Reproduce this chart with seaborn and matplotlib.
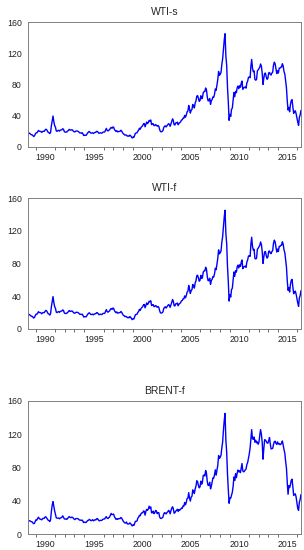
import pandas as pd
import seaborn as sns
import matplotlib.pyplot as plt
import matplotlib.dates as mdates

sns.set_theme(style="white")
plt.rcParams["font.family"] = ["Liberation Sans", "DejaVu Sans"]

# monthly readings, Mar 1988 .. May 2016
wti_s = [
    16.2, 17.9, 17.4, 16.5, 15.5, 15.5, 14.5, 13.3, 14.0, 16.3,
    18.0, 17.9, 19.4, 21.0, 20.0, 20.0, 19.6, 18.5, 19.6, 20.1, 19.8, 21.1,
    22.6, 22.1, 20.4, 18.6, 18.2, 16.9, 18.6, 27.2, 33.7, 39.5, 32.3, 27.3,
    25.2, 20.5, 19.9, 20.8, 21.2, 20.2, 21.4, 21.7, 21.9, 23.2, 22.5, 19.5,
    18.8, 19.0, 18.9, 20.2, 20.9, 22.4, 21.8, 21.4, 21.9, 21.7, 20.3, 19.4,
    19.1, 20.1, 20.3, 20.3, 19.9, 19.1, 17.9, 18.0, 17.5, 18.1, 16.7, 14.5,
    15.0, 14.8, 14.7, 16.4, 17.9, 19.1, 19.7, 18.4, 17.5, 17.7, 18.1, 17.2,
    18.0, 18.5, 18.6, 19.9, 19.7, 18.4, 17.3, 17.9, 18.0, 17.4, 18.0, 19.0,
    18.9, 19.1, 21.4, 23.6, 21.2, 20.4, 21.3, 21.9, 23.9, 24.9, 23.7, 25.4,
    25.2, 22.2, 21.0, 19.7, 20.8, 19.2, 19.6, 19.9, 19.8, 21.3, 20.2, 18.3,
    16.7, 16.1, 15.0, 15.4, 14.9, 13.7, 14.2, 13.5, 15.0, 14.4, 12.9, 11.3,
    12.5, 12.0, 14.7, 17.3, 17.8, 17.9, 20.1, 21.3, 23.9, 22.6, 25.0, 26.1,
    27.2, 29.4, 29.9, 25.7, 28.8, 31.8, 29.7, 31.2, 33.9, 33.1, 34.4, 28.5,
    29.6, 29.6, 27.2, 27.4, 28.6, 27.6, 26.4, 27.4, 26.2, 22.2, 19.6, 19.3,
    19.7, 20.7, 24.5, 26.2, 27.0, 25.5, 26.9, 28.4, 29.7, 28.9, 26.3, 29.4,
    32.9, 35.9, 33.6, 28.3, 28.1, 30.7, 30.8, 31.6, 28.3, 30.3, 31.1, 32.1,
    34.3, 34.7, 36.7, 36.7, 40.3, 38.0, 40.7, 44.9, 45.9, 53.1, 48.5, 43.3,
    46.8, 48.0, 54.3, 53.0, 49.8, 56.3, 58.7, 65.0, 65.6, 62.4, 58.3, 59.4,
    65.5, 61.6, 62.7, 69.4, 70.8, 70.9, 75.4, 73.0, 63.8, 58.9, 59.1, 62.0,
    54.5, 59.3, 60.4, 64.0, 63.5, 67.5, 74.1, 72.4, 79.9, 86.2, 96.6, 91.7,
    93.0, 95.4, 105.5, 112.6, 125.4, 136.9, 145.0, 116.7, 104.1, 76.6, 57.3, 34.0,
    41.7, 39.1, 47.9, 49.7, 59.0, 69.6, 64.2, 71.1, 69.4, 75.7, 78.0, 74.5,
    78.3, 76.4, 81.2, 84.3, 73.7, 75.3, 76.3, 76.6, 75.2, 81.9, 84.3, 89.2,
    89.2, 88.6, 102.9, 112.0, 100.9, 96.3, 97.3, 86.3, 85.5, 86.3, 97.2, 98.6,
    100.3, 102.2, 106.2, 103.3, 94.7, 80.0, 87.9, 94.1, 94.5, 89.5, 86.5, 87.9,
    94.8, 95.3, 92.9, 92.0, 94.5, 95.8, 104.6, 108.5, 106.3, 100.5, 93.9, 97.6,
    94.6, 100.8, 100.8, 102.1, 102.2, 106.5, 103.6, 96.5, 93.2, 84.4, 75.8, 59.3,
    47.2, 50.6, 45.0, 54.5, 59.3, 60.5, 50.9, 42.9, 45.5, 46.2, 42.4, 37.2,
    31.7, 27.5, 37.6, 40.8, 46.7,
]

# the futures series reads the same as the spot series
wti_f = list(wti_s)

brent_f = [
    14.7, 16.0, 16.2, 15.4, 14.9, 14.8, 13.4, 12.4, 13.0, 15.3,
    17.2, 16.9, 18.7, 20.3, 18.6, 17.9, 17.8, 17.1, 18.3, 19.0, 18.8, 20.2,
    20.8, 19.4, 18.3, 16.6, 16.3, 15.0, 17.2, 27.2, 35.0, 39.0, 32.9, 27.8,
    23.8, 19.5, 19.1, 19.2, 19.2, 18.3, 19.4, 19.6, 20.2, 21.9, 20.2, 18.2,
    18.0, 18.1, 17.6, 18.8, 19.8, 21.0, 20.2, 19.6, 20.2, 20.2, 19.2, 18.0,
    17.4, 18.5, 18.7, 18.6, 18.4, 17.5, 16.7, 16.8, 16.3, 16.9, 15.4, 13.8,
    14.4, 13.9, 13.9, 15.2, 16.3, 16.6, 17.7, 16.8, 16.0, 16.4, 17.3, 15.9,
    16.6, 17.2, 16.9, 18.3, 18.6, 17.4, 16.0, 16.1, 16.6, 16.3, 17.0, 17.9,
    18.0, 18.2, 19.9, 20.9, 19.1, 18.6, 19.7, 20.4, 22.6, 24.8, 23.3, 23.6,
    24.0, 20.8, 19.2, 17.6, 18.6, 17.6, 18.5, 18.6, 18.5, 19.9, 19.1, 17.2,
    15.3, 14.2, 13.3, 13.3, 14.5, 12.2, 12.1, 12.0, 13.4, 12.9, 11.0, 9.8,
    11.1, 10.3, 12.5, 15.3, 15.3, 15.8, 19.0, 20.3, 22.5, 22.0, 24.6, 25.5,
    25.5, 27.8, 27.3, 22.7, 27.4, 29.7, 28.5, 30.0, 33.5, 30.9, 32.5, 25.5,
    25.6, 27.5, 24.5, 25.6, 28.4, 27.7, 24.5, 25.8, 25.6, 20.5, 18.9, 18.7,
    19.4, 20.3, 23.7, 25.7, 25.4, 24.1, 25.7, 26.6, 28.4, 27.5, 24.3, 28.0,
    31.2, 32.8, 30.4, 25.0, 25.8, 27.6, 28.4, 29.8, 27.1, 29.6, 28.8, 29.8,
    31.2, 30.9, 33.8, 33.4, 37.9, 35.2, 38.2, 42.7, 43.2, 49.8, 43.1, 39.6,
    44.5, 45.5, 53.1, 51.9, 48.7, 54.3, 57.5, 64.1, 62.9, 58.5, 55.5, 56.8,
    63.6, 59.9, 62.3, 70.4, 70.9, 69.8, 76.4, 73.1, 62.8, 58.4, 58.9, 62.3,
    54.3, 57.6, 62.1, 67.5, 67.2, 71.3, 77.2, 70.8, 77.1, 82.3, 94.4, 90.9,
    92.2, 94.9, 103.3, 110.4, 124.6, 136.5, 145.0, 113.2, 98.1, 72.7, 53.2, 37.0,
    43.4, 43.3, 46.5, 50.2, 57.3, 68.6, 64.4, 72.5, 67.7, 73.2, 77.0, 74.7,
    76.2, 73.8, 78.8, 84.8, 76.0, 74.8, 75.6, 77.1, 78.2, 83.5, 86.1, 91.5,
    96.5, 103.7, 114.6, 125.5, 114.5, 113.9, 116.7, 110.4, 112.8, 109.6, 110.8, 107.9,
    110.7, 119.3, 125.5, 119.8, 110.3, 90.0, 102.6, 113.4, 113.0, 111.5, 109.5, 109.2,
    112.3, 116.1, 108.5, 102.3, 102.6, 102.9, 107.7, 111.0, 111.6, 109.1, 107.8, 110.8,
    108.1, 108.9, 107.5, 107.8, 109.5, 111.9, 106.8, 101.6, 97.1, 87.4, 79.4, 62.3,
    47.8, 58.1, 55.9, 59.5, 64.6, 66.0, 56.8, 46.5, 47.6, 48.4, 44.3, 38.0,
    30.7, 28.5, 38.2, 41.6, 47.5,
]

titles = ["WTI-s", "WTI-f", "BRENT-f"]
series = [wti_s, wti_f, brent_f]
y_ticks = [0, 40, 80, 120, 160]

dates = pd.date_range("1988-03-01", periods=len(wti_s), freq="MS") + pd.Timedelta(days=14)

fig = plt.figure(figsize=(3.04, 5.5), dpi=100)
boxes = [
    [0.092, 0.733, 0.898, 0.227],
    [0.092, 0.402, 0.898, 0.238],
    [0.092, 0.029, 0.898, 0.242],
]

for box, title, values in zip(boxes, titles, series):
    ax = fig.add_axes(box)
    df = pd.DataFrame({"date": dates, "price": values})
    sns.lineplot(x="date", y="price", data=df, color="#0000ff", linewidth=1.0, ax=ax)
    ax.set_xlim(dates[0], dates[-1])
    ax.set_ylim(0, 160)
    ax.set_yticks(y_ticks)
    ax.xaxis.set_major_locator(mdates.YearLocator(5))
    ax.xaxis.set_minor_locator(mdates.YearLocator(1))
    ax.xaxis.set_major_formatter(mdates.DateFormatter("%Y"))
    ax.set_xlabel("")
    ax.set_ylabel("")
    ax.set_title(title, fontsize=7.5, pad=5)
    ax.tick_params(which="both", direction="out", width=0.6, colors="#555555",
                   labelsize=6.3, pad=1.5, labelcolor="#222222")
    ax.tick_params(which="major", length=3)
    ax.tick_params(which="minor", length=2, bottom=True)
    for s in ax.spines.values():
        s.set_color("#808080")
        s.set_linewidth(0.7)

fig.savefig("out.png", dpi=100)
